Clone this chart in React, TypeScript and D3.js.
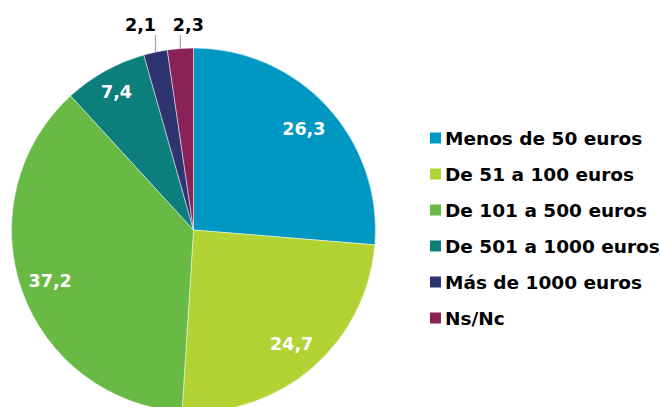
import React from 'react';
import * as d3 from 'd3';

const categories = ['Menos de 50 euros', 'De 51 a 100 euros', 'De 101 a 500 euros', 'De 501 a 1000 euros', 'Más de 1000 euros', 'Ns/Nc'];
const values = [26.3, 24.7, 37.2, 7.4, 2.1, 2.3];
const valueLabels = ['26,3', '24,7', '37,2', '7,4', '2,1', '2,3'];
const colors = ['#0098c3', '#b3d335', '#69b945', '#0c7e7b', '#2d3470', '#8b2257'];

const W = 660;
const H = 407;
const cx = 193.5;
const cy = 230;
const R = 182;
const font = '"DejaVu Sans", Verdana, sans-serif';

// small slices get their label outside, with a leader line
const outside = [false, false, false, false, true, true];
const outsideDx = [0, 0, 0, 0, -15, 8];
// label distance from centre (excel "best fit" is not quite radial)
const labelR = [150, 150, 152, 158, 0, 0];

const App = () => {
  const pie = d3.pie<number>().sort(null).value(d => d);
  const arcs = pie(values);
  const arc = d3.arc<d3.PieArcDatum<number>>().innerRadius(0).outerRadius(R);
  const edgeArc = d3.arc<d3.PieArcDatum<number>>().innerRadius(R).outerRadius(R);

  const legendY = d3.scaleLinear().domain([0, categories.length - 1]).range([138, 318]);

  return (
    <svg width={W} height={H} style={{ position: 'absolute', left: 0, top: 0, background: '#fff' }}>
      <g transform={`translate(${cx},${cy})`}>
        {arcs.map((a, i) => (
          <path key={i} d={arc(a) || ''} fill={colors[i]} stroke="#ffffff" strokeOpacity={0.6} strokeWidth={0.8} />
        ))}
        {arcs.map((a, i) => {
          if (outside[i]) {
            const [ex, ey] = edgeArc.centroid(a);
            const topY = 35 - cy;
            return (
              <g key={i}>
                <line x1={ex} y1={ey} x2={ex} y2={topY} stroke="#a6a6a6" strokeWidth={1.2} />
                <text x={ex + outsideDx[i]} y={topY - 4} textAnchor="middle" fontFamily={font} fontWeight="bold"
                  fontSize={17.5} fill="#000">{valueLabels[i]}</text>
              </g>
            );
          }
          const [lx, ly] = d3.arc<d3.PieArcDatum<number>>().innerRadius(labelR[i]).outerRadius(labelR[i]).centroid(a);
          return (
            <text key={i} x={lx} y={ly} dy="0.36em" textAnchor="middle" fontFamily={font} fontWeight="bold"
              fontSize={17.5} fill="#fff">{valueLabels[i]}</text>
          );
        })}
      </g>
      <g>
        {categories.map((c, i) => (
          <g key={c} transform={`translate(430,${legendY(i)})`}>
            <rect x={0} y={-5.5} width={11} height={11} fill={colors[i]} />
            <text x={15} y={0} dy="0.36em" fontFamily={font} fontWeight="bold" fontSize={18.5} fill="#000">{c}</text>
          </g>
        ))}
      </g>
    </svg>
  );
};

export default App;
